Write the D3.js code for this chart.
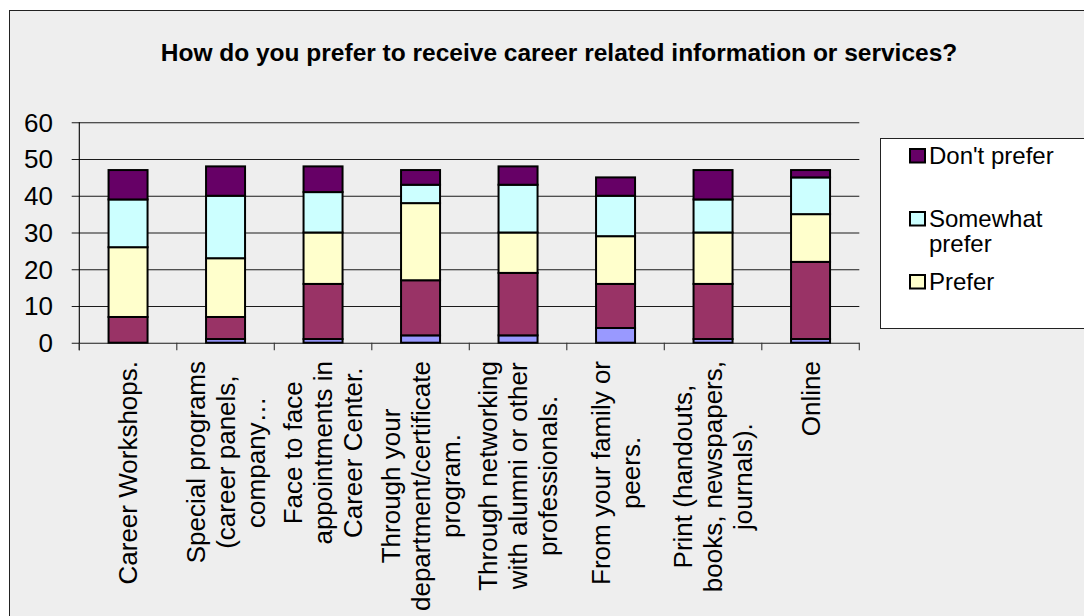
<!DOCTYPE html>
<html>
<head>
<meta charset="utf-8">
<script src="https://cdn.jsdelivr.net/npm/d3@7"></script>
<style>
  body { margin: 0; background: #fff; }
  text { font-family: "Liberation Sans", Arial, sans-serif; fill: #000; }
</style>
</head>
<body>
<div id="chart"></div>
<script>
// survey answers per channel, stacked bottom -> top
const categories = [
  ['Career Workshops.'],
  ['Special programs', '(career panels,', 'company…'],
  ['Face to face', 'appointments in', 'Career Center.'],
  ['Through your', 'department/certificate', 'program.'],
  ['Through networking', 'with alumni or other', 'professionals.'],
  ['From your family or', 'peers.'],
  ['Print (handouts,', 'books, newspapers,', 'journals).'],
  ['Online']
];
const noAnswer       = [0, 1, 1, 2, 2, 4, 1, 1];
const stronglyPrefer = [7, 6, 15, 15, 17, 12, 15, 21];
const prefer         = [19, 16, 14, 21, 11, 13, 14, 13];
const somewhatPrefer = [13, 17, 11, 5, 13, 11, 9, 10];
const dontPrefer     = [8, 8, 7, 4, 5, 5, 8, 2];
const seriesNames  = ['No answer', 'Strongly prefer', 'Prefer', 'Somewhat prefer', "Don't prefer"];
const seriesColors = ['#9999FF', '#993366', '#FFFFCC', '#CCFFFF', '#660066'];
const yTicks = [0, 10, 20, 30, 40, 50, 60];

const title = 'How do you prefer to receive career related information or services?';

let width = 1084, height = 616;
let plot = {left: 79.3, right: 859.3, top: 122.3, bottom: 342.7};
let tickLen = 7.6;

let svg = d3.select('#chart').append('svg')
  .attr('width', width)
  .attr('height', height);

// chart area
svg.append('rect')
  .attr('x', 9.5).attr('y', 10.5)
  .attr('width', 1100).attr('height', 700)
  .attr('fill', '#EEEEEE')
  .attr('stroke', '#222');

svg.append('text')
  .attr('x', 559).attr('y', 61)
  .attr('text-anchor', 'middle')
  .style('font-size', '24.5px')
  .style('font-weight', 'bold')
  .text(title);

let keys = seriesNames.map((d, i) => i);
let rows = categories.map((c, i) => [noAnswer[i], stronglyPrefer[i], prefer[i], somewhatPrefer[i], dontPrefer[i]]);
let stacked = d3.stack().keys(keys)(rows);

let xScale = d3.scaleBand()
  .domain(d3.range(categories.length))
  .range([plot.left, plot.right])
  .paddingInner(0.6)
  .paddingOuter(0.3);
let step = xScale.step();

let yScale = d3.scaleLinear()
  .domain([0, 60])
  .range([plot.bottom, plot.top]);

// gridlines (with the small tick stub left of the axis)
let yAxis = d3.axisRight(yScale).tickValues(yTicks).tickSize(plot.right - plot.left + tickLen).tickFormat('');
let yG = svg.append('g')
  .attr('transform', 'translate(' + (plot.left - tickLen) + ',0)')
  .call(yAxis);
yG.select('.domain').remove();
yG.selectAll('.tick line').attr('stroke', '#1a1a1a').attr('stroke-width', 1.1);

svg.append('g').selectAll('text')
  .data(yTicks)
  .join('text')
  .attr('x', 53)
  .attr('y', d => yScale(d))
  .attr('dy', '0.36em')
  .attr('text-anchor', 'end')
  .style('font-size', '26px')
  .text(d => d);

// y axis line
svg.append('line')
  .attr('x1', plot.left).attr('x2', plot.left)
  .attr('y1', plot.top).attr('y2', plot.bottom + tickLen)
  .attr('stroke', '#000').attr('stroke-width', 1.1);

// x axis ticks at category boundaries
let boundaries = d3.range(categories.length + 1).map(i => plot.left + i * step);
svg.append('g').selectAll('line')
  .data(boundaries)
  .join('line')
  .attr('x1', d => d).attr('x2', d => d)
  .attr('y1', plot.bottom).attr('y2', plot.bottom + tickLen)
  .attr('stroke', '#333').attr('stroke-width', 1.1);

// bars
svg.append('g').selectAll('g')
  .data(stacked)
  .join('g')
  .attr('fill', (d, i) => seriesColors[i])
  .selectAll('rect')
  .data(d => d.map((v, i) => ({v, i})))
  .join('rect')
  .attr('x', d => xScale(d.i))
  .attr('width', xScale.bandwidth())
  .attr('y', d => yScale(d.v[1]))
  .attr('height', d => yScale(d.v[0]) - yScale(d.v[1]))
  .attr('stroke', '#000')
  .attr('stroke-width', 2);

// category labels, rotated, lines centered inside the block
let labelTop = 361;
let lineGap = 30;
categories.forEach((lines, i) => {
  let cx = xScale(i) + xScale.bandwidth() / 2;
  let g = svg.append('g')
    .attr('transform', 'translate(' + cx + ',' + labelTop + ') rotate(-90)');
  let texts = g.selectAll('text')
    .data(lines)
    .join('text')
    .attr('y', (d, j) => (j - (lines.length - 1) / 2) * lineGap)
    .attr('dy', '0.35em')
    .attr('text-anchor', 'middle')
    .style('font-size', '26px')
    .text(d => d);
  let maxLen = d3.max(texts.nodes(), n => n.getComputedTextLength());
  texts.attr('x', -maxLen / 2);
});

// legend (entries that do not fit inside the box are left out, like the original)
let legend = {x: 880.5, y: 138.5, w: 260, h: 190};
svg.append('rect')
  .attr('x', legend.x).attr('y', legend.y)
  .attr('width', legend.w).attr('height', legend.h)
  .attr('fill', '#fff')
  .attr('stroke', '#222');

let legendLines = [["Don't prefer"], ['Somewhat', 'prefer'], ['Prefer'], ['Strongly', 'prefer'], ['No answer']];
let legendOrder = [4, 3, 2, 1, 0];
let slot = 63;
legendOrder.forEach((s, k) => {
  let base = 164 + k * slot;
  if (base + 10 > legend.y + legend.h) return;
  svg.append('rect')
    .attr('x', 910).attr('y', base - 15)
    .attr('width', 15).attr('height', 13.5)
    .attr('fill', seriesColors[s])
    .attr('stroke', '#000').attr('stroke-width', 2);
  legendLines[k].forEach((t, j) => {
    svg.append('text')
      .attr('x', 929).attr('y', base + j * 25)
      .style('font-size', '24px')
      .text(t);
  });
});
</script>
</body>
</html>
